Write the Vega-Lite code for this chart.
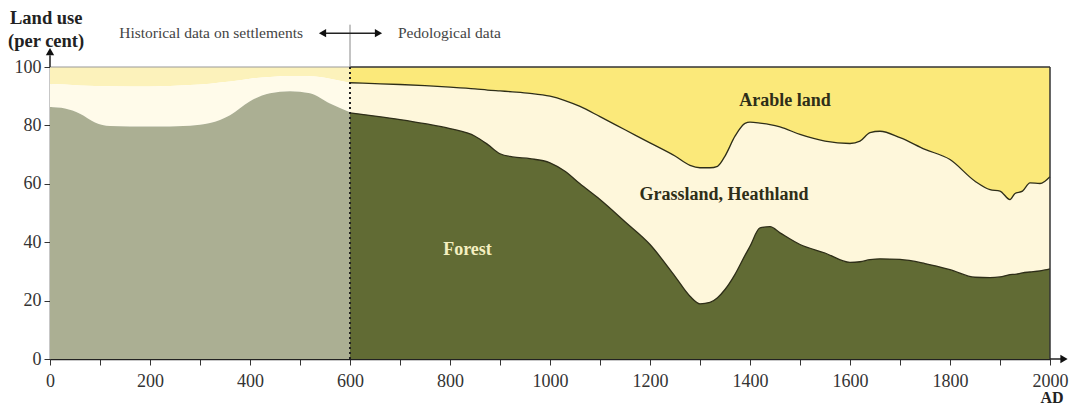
{
  "$schema": "https://vega.github.io/schema/vega-lite/v6.json",
  "width": 1000,
  "height": 292,
  "autosize": "none",
  "padding": {"left": 50, "top": 67, "right": 23, "bottom": 48},
  "background": "white",
  "config": {
    "view": {"stroke": null},
    "font": "Liberation Serif",
    "axis": {"grid": false, "labelFont": "Liberation Serif", "labelFontSize": 18, "labelColor": "#333", "tickColor": "#333", "domainColor": "#222", "domainWidth": 1.5, "tickSize": 6, "title": null, "labelFlush": false}
  },
  "datasets": {
    "left": [
      {"year": 0, "forest": 86.3, "grass": 94.2},
      {"year": 30, "forest": 85.8, "grass": 94.0},
      {"year": 60, "forest": 84.0, "grass": 93.7},
      {"year": 90, "forest": 81.0, "grass": 93.5},
      {"year": 120, "forest": 79.8, "grass": 93.4},
      {"year": 200, "forest": 79.6, "grass": 93.3},
      {"year": 280, "forest": 79.9, "grass": 93.8},
      {"year": 320, "forest": 80.8, "grass": 94.3},
      {"year": 360, "forest": 83.5, "grass": 95.0},
      {"year": 400, "forest": 88.3, "grass": 96.0},
      {"year": 440, "forest": 91.0, "grass": 96.6},
      {"year": 480, "forest": 91.7, "grass": 96.9},
      {"year": 520, "forest": 91.0, "grass": 96.8},
      {"year": 560, "forest": 87.5, "grass": 96.0},
      {"year": 600, "forest": 84.5, "grass": 94.6}
    ],
    "right": [
      {"year": 600, "forest": 84.3, "grass": 94.6},
      {"year": 650, "forest": 83.2, "grass": 94.3},
      {"year": 700, "forest": 82.0, "grass": 94.0},
      {"year": 750, "forest": 80.6, "grass": 93.6},
      {"year": 800, "forest": 78.9, "grass": 93.1},
      {"year": 850, "forest": 76.3, "grass": 92.5},
      {"year": 875, "forest": 73.5, "grass": 92.1},
      {"year": 900, "forest": 70.3, "grass": 91.8},
      {"year": 925, "forest": 69.2, "grass": 91.5},
      {"year": 960, "forest": 68.6, "grass": 91.0},
      {"year": 1000, "forest": 67.2, "grass": 90.0},
      {"year": 1030, "forest": 64.3, "grass": 88.5},
      {"year": 1060, "forest": 60.0, "grass": 86.5},
      {"year": 1100, "forest": 54.6, "grass": 83.0},
      {"year": 1150, "forest": 47.0, "grass": 78.5},
      {"year": 1200, "forest": 39.2, "grass": 74.0},
      {"year": 1250, "forest": 28.3, "grass": 69.5},
      {"year": 1280, "forest": 21.5, "grass": 66.3},
      {"year": 1300, "forest": 18.9, "grass": 65.5},
      {"year": 1320, "forest": 19.4, "grass": 65.5},
      {"year": 1335, "forest": 21.0, "grass": 66.0},
      {"year": 1350, "forest": 23.8, "grass": 69.5},
      {"year": 1370, "forest": 29.0, "grass": 76.3},
      {"year": 1390, "forest": 35.5, "grass": 80.7},
      {"year": 1400, "forest": 38.6, "grass": 81.1},
      {"year": 1420, "forest": 44.9, "grass": 80.8},
      {"year": 1440, "forest": 45.3, "grass": 80.3},
      {"year": 1460, "forest": 43.2, "grass": 79.5},
      {"year": 1500, "forest": 39.2, "grass": 76.9},
      {"year": 1550, "forest": 36.3, "grass": 74.6},
      {"year": 1600, "forest": 33.1, "grass": 73.8},
      {"year": 1620, "forest": 33.3, "grass": 74.6},
      {"year": 1640, "forest": 34.0, "grass": 77.5},
      {"year": 1660, "forest": 34.3, "grass": 78.0},
      {"year": 1700, "forest": 34.1, "grass": 75.8},
      {"year": 1750, "forest": 32.7, "grass": 71.8},
      {"year": 1800, "forest": 30.6, "grass": 68.3},
      {"year": 1850, "forest": 28.0, "grass": 60.9},
      {"year": 1880, "forest": 27.9, "grass": 58.0},
      {"year": 1900, "forest": 28.1, "grass": 57.5},
      {"year": 1920, "forest": 28.9, "grass": 54.6},
      {"year": 1930, "forest": 29.0, "grass": 56.7},
      {"year": 1945, "forest": 29.5, "grass": 57.5},
      {"year": 1960, "forest": 29.8, "grass": 60.3},
      {"year": 1980, "forest": 30.2, "grass": 60.1},
      {"year": 1990, "forest": 30.5, "grass": 60.9},
      {"year": 2000, "forest": 30.9, "grass": 62.4}
    ]
  },
  "layer": [
    {
      "data": {"name": "left"},
      "mark": {"type": "area", "color": "#fcf2bb", "interpolate": "monotone"},
      "encoding": {
        "x": {"field": "year", "type": "quantitative", "scale": {"domain": [0, 2000], "nice": false},
          "axis": {"values": [0,100,200,300,400,500,600,700,800,900,1000,1100,1200,1300,1400,1500,1600,1700,1800,1900,2000], "format": "d", "labelExpr": "datum.value % 200 == 0 ? datum.label : ''", "labelPadding": 7}},
        "y": {"field": "grass", "type": "quantitative", "scale": {"domain": [0, 100], "nice": false},
          "axis": {"values": [0, 20, 40, 60, 80, 100], "labelPadding": 3}},
        "y2": {"datum": 100}
      }
    },
    {
      "data": {"name": "left"},
      "mark": {"type": "area", "color": "#fffbea", "interpolate": "monotone"},
      "encoding": {"x": {"field": "year", "type": "quantitative"}, "y": {"field": "forest", "type": "quantitative"}, "y2": {"field": "grass"}}
    },
    {
      "data": {"name": "left"},
      "mark": {"type": "area", "color": "#abaf93", "interpolate": "monotone"},
      "encoding": {"x": {"field": "year", "type": "quantitative"}, "y": {"field": "forest", "type": "quantitative"}, "y2": {"datum": 0}}
    },
    {
      "data": {"name": "right"},
      "mark": {"type": "area", "color": "#fbe97a", "interpolate": "monotone"},
      "encoding": {"x": {"field": "year", "type": "quantitative"}, "y": {"field": "grass", "type": "quantitative"}, "y2": {"datum": 100}}
    },
    {
      "data": {"name": "right"},
      "mark": {"type": "area", "color": "#fef7db", "interpolate": "monotone"},
      "encoding": {"x": {"field": "year", "type": "quantitative"}, "y": {"field": "forest", "type": "quantitative"}, "y2": {"field": "grass"}}
    },
    {
      "data": {"name": "right"},
      "mark": {"type": "area", "color": "#616b34", "interpolate": "monotone"},
      "encoding": {"x": {"field": "year", "type": "quantitative"}, "y": {"field": "forest", "type": "quantitative"}, "y2": {"datum": 0}}
    },
    {
      "data": {"name": "right"},
      "mark": {"type": "line", "color": "#2e2e18", "strokeWidth": 1.3, "interpolate": "monotone"},
      "encoding": {"x": {"field": "year", "type": "quantitative"}, "y": {"field": "grass", "type": "quantitative"}}
    },
    {
      "data": {"name": "right"},
      "mark": {"type": "line", "color": "#2e2e18", "strokeWidth": 1.3, "interpolate": "monotone"},
      "encoding": {"x": {"field": "year", "type": "quantitative"}, "y": {"field": "forest", "type": "quantitative"}}
    },
    {
      "data": {"values": [{"x1": 0, "x2": 600, "y": 100}]},
      "mark": {"type": "rule", "color": "#999", "strokeWidth": 1.2},
      "encoding": {"x": {"field": "x1", "type": "quantitative"}, "x2": {"field": "x2"}, "y": {"field": "y", "type": "quantitative"}}
    },
    {
      "data": {"values": [{"x1": 600, "x2": 2000, "y": 100}]},
      "mark": {"type": "rule", "color": "#333", "strokeWidth": 1.5},
      "encoding": {"x": {"field": "x1", "type": "quantitative"}, "x2": {"field": "x2"}, "y": {"field": "y", "type": "quantitative"}}
    },
    {
      "data": {"values": [{"x": 2000, "y1": 0, "y2": 100}]},
      "mark": {"type": "rule", "color": "#333", "strokeWidth": 1.5},
      "encoding": {"x": {"field": "x", "type": "quantitative"}, "y": {"field": "y1", "type": "quantitative"}, "y2": {"field": "y2"}}
    },
    {
      "data": {"values": [{"x": 600, "y1": 0, "y2": 100}]},
      "mark": {"type": "rule", "color": "#222", "strokeWidth": 2, "strokeDash": [2, 3]},
      "encoding": {"x": {"field": "x", "type": "quantitative"}, "y": {"field": "y1", "type": "quantitative"}, "y2": {"field": "y2"}}
    },
    {
      "data": {"values": [{"x": 600, "y1": 100, "y2": 114.5}]},
      "mark": {"type": "rule", "color": "#888", "strokeWidth": 1},
      "encoding": {"x": {"field": "x", "type": "quantitative"}, "y": {"field": "y1", "type": "quantitative"}, "y2": {"field": "y2"}}
    },
    {
      "data": {"values": [{"x1": 546, "x2": 656, "y": 111.6}]},
      "mark": {"type": "rule", "color": "#222", "strokeWidth": 1.5},
      "encoding": {"x": {"field": "x1", "type": "quantitative"}, "x2": {"field": "x2"}, "y": {"field": "y", "type": "quantitative"}}
    },
    {
      "data": {"values": [{"x": 0, "y1": 100, "y2": 104}]},
      "mark": {"type": "rule", "color": "#222", "strokeWidth": 1.5},
      "encoding": {"x": {"field": "x", "type": "quantitative"}, "y": {"field": "y1", "type": "quantitative"}, "y2": {"field": "y2"}}
    },
    {
      "data": {"values": [{"x1": 2000, "x2": 2024, "y": 0}]},
      "mark": {"type": "rule", "color": "#222", "strokeWidth": 1.5},
      "encoding": {"x": {"field": "x1", "type": "quantitative"}, "x2": {"field": "x2"}, "y": {"field": "y", "type": "quantitative"}}
    },
    {
      "data": {"values": [
        {"x": 0, "y": 105.3, "shape": "triangle-up"},
        {"x": 2028, "y": 0, "shape": "triangle-right"},
        {"x": 545, "y": 111.6, "shape": "triangle-left"},
        {"x": 657, "y": 111.6, "shape": "triangle-right"}
      ]},
      "mark": {"type": "point", "filled": true, "color": "#111", "size": 70, "opacity": 1},
      "encoding": {
        "x": {"field": "x", "type": "quantitative"},
        "y": {"field": "y", "type": "quantitative"},
        "shape": {"field": "shape", "type": "nominal", "scale": null, "legend": null}
      }
    },
    {
      "data": {"values": [{"x": 506, "y": 111.6, "t": "Historical data on settlements"}]},
      "mark": {"type": "text", "align": "right", "baseline": "middle", "font": "Liberation Serif", "fontSize": 15.5, "color": "#444"},
      "encoding": {"x": {"field": "x", "type": "quantitative"}, "y": {"field": "y", "type": "quantitative"}, "text": {"field": "t"}}
    },
    {
      "data": {"values": [{"x": 696, "y": 111.6, "t": "Pedological data"}]},
      "mark": {"type": "text", "align": "left", "baseline": "middle", "font": "Liberation Serif", "fontSize": 15.5, "color": "#444"},
      "encoding": {"x": {"field": "x", "type": "quantitative"}, "y": {"field": "y", "type": "quantitative"}, "text": {"field": "t"}}
    },
    {
      "data": {"values": [{"x": -80, "y": 116.8, "t": "Land use"}, {"x": -84, "y": 108.9, "t": "(per cent)"}]},
      "mark": {"type": "text", "align": "left", "baseline": "middle", "font": "Liberation Serif", "fontSize": 18.5, "fontWeight": "bold", "color": "#222"},
      "encoding": {"x": {"field": "x", "type": "quantitative"}, "y": {"field": "y", "type": "quantitative"}, "text": {"field": "t"}}
    },
    {
      "data": {"values": [{"x": 2004, "y": -13.4, "t": "AD"}]},
      "mark": {"type": "text", "align": "center", "baseline": "middle", "font": "Liberation Serif", "fontSize": 16, "fontWeight": "bold", "color": "#222"},
      "encoding": {"x": {"field": "x", "type": "quantitative"}, "y": {"field": "y", "type": "quantitative"}, "text": {"field": "t"}}
    },
    {
      "data": {"values": [{"x": 1470, "y": 88.3, "t": "Arable land"}, {"x": 1348, "y": 56.2, "t": "Grassland, Heathland"}]},
      "mark": {"type": "text", "align": "center", "baseline": "middle", "font": "Liberation Serif", "fontSize": 18, "fontWeight": "bold", "color": "#2e2e18"},
      "encoding": {"x": {"field": "x", "type": "quantitative"}, "y": {"field": "y", "type": "quantitative"}, "text": {"field": "t"}}
    },
    {
      "data": {"values": [{"x": 835, "y": 37.3, "t": "Forest"}]},
      "mark": {"type": "text", "align": "center", "baseline": "middle", "font": "Liberation Serif", "fontSize": 18, "fontWeight": "bold", "color": "#f4efc0"},
      "encoding": {"x": {"field": "x", "type": "quantitative"}, "y": {"field": "y", "type": "quantitative"}, "text": {"field": "t"}}
    }
  ]
}
